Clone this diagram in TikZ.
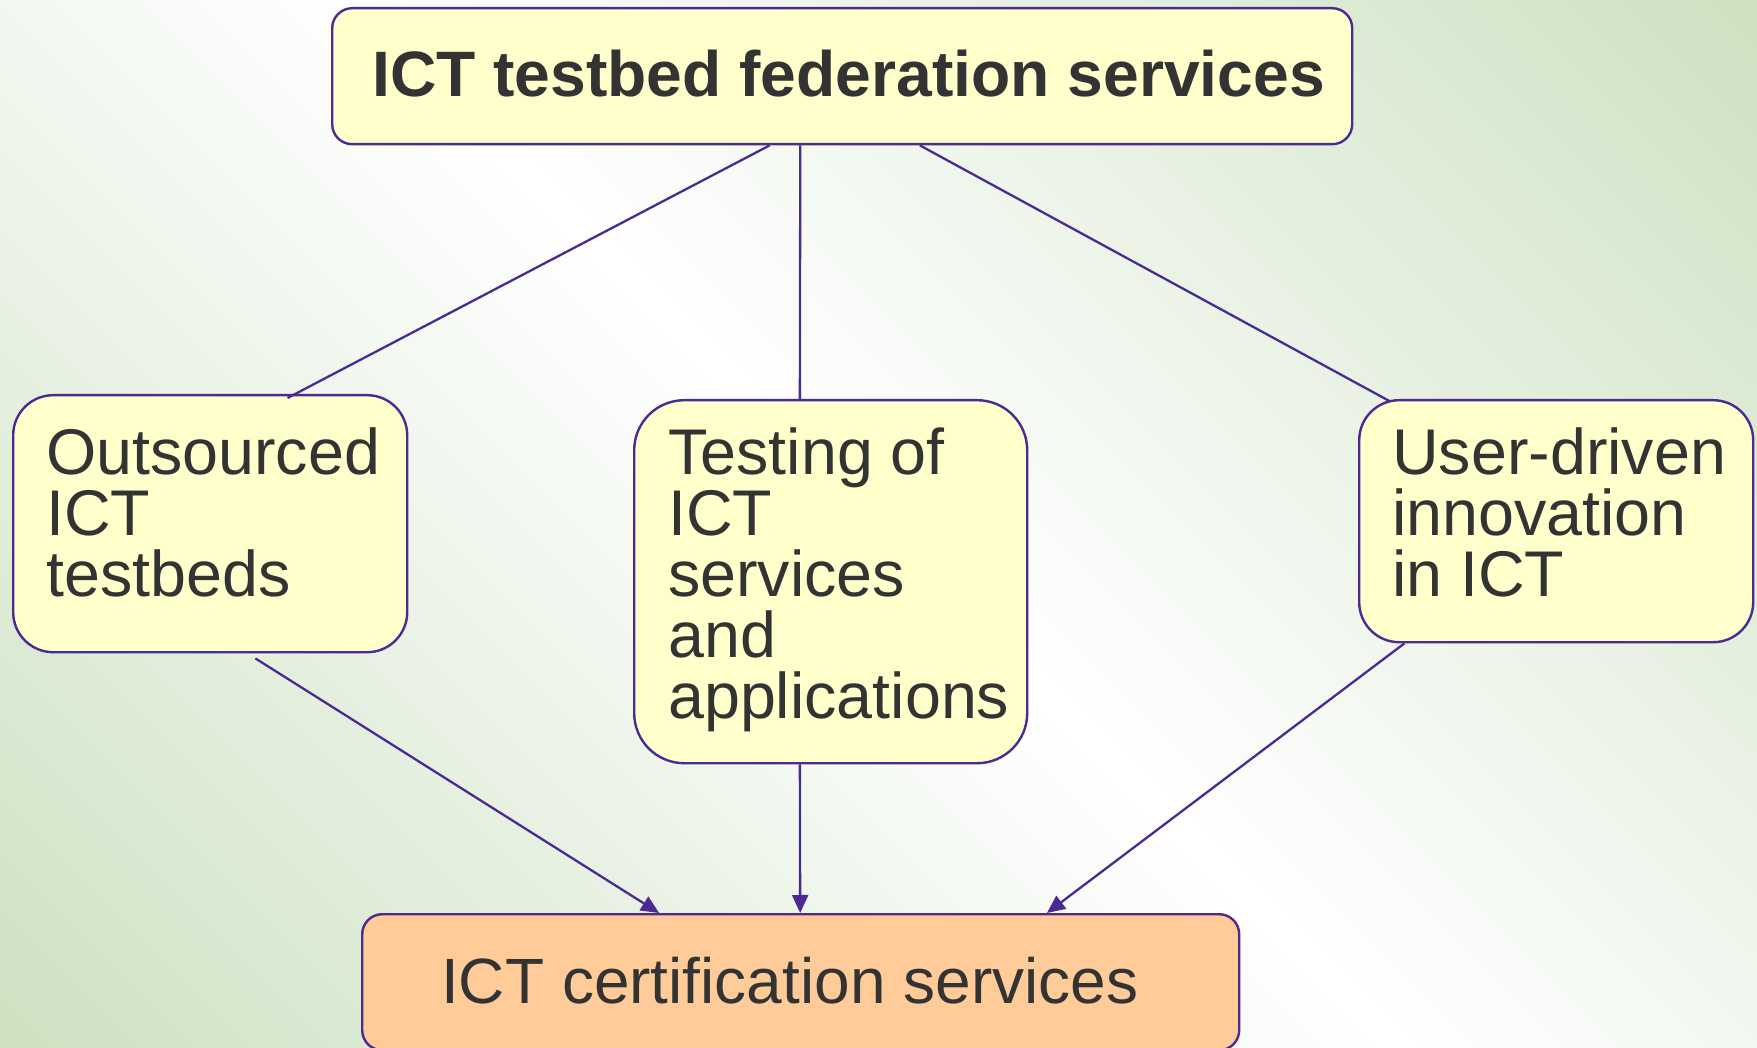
\documentclass[tikz,border=0pt]{standalone}
\usepackage{fontspec}
\setmainfont{Liberation Sans}
\usetikzlibrary{calc,arrows.meta}
\definecolor{edgec}{HTML}{4B2A91}
\definecolor{boxfill}{HTML}{FFFFCC}
\definecolor{certfill}{HTML}{FFCC99}
\definecolor{bggreen}{HTML}{CDE1C2}
\definecolor{txt}{HTML}{333333}
\tikzset{
  box/.style={draw=edgec, line width=2.4pt, fill=boxfill, inner sep=0pt, anchor=north west},
  lbl/.style={text=txt, font=\fontsize{64.6}{61}\selectfont, align=left, inner sep=0pt, anchor=base west},
  conn/.style={draw=edgec, line width=2.3pt},
  arr/.style={conn, -{Triangle[length=18pt,width=16pt]}}
}
\begin{document}
\begin{tikzpicture}[x=1pt,y=-1pt]
\useasboundingbox (0,0) rectangle (1757,1048);
% background: diagonal green-white-green gradient, drawn as thin bands
\begin{scope}
  \clip (0,0) rectangle (1757,1048);
  \begin{scope}[shift={(878.5,524)}, rotate=-45]
    \foreach \i in {0,...,99} {
      \pgfmathsetmacro\ya{-1000+\i*20}
      \pgfmathsetmacro\pc{min(100,abs(\ya+10)/990*100)}
      \fill[bggreen!\pc!white] (-1150,\ya) rectangle (1150,\ya+21);
    }
  \end{scope}
\end{scope}
% boxes
\node[box, rounded corners=20pt, minimum width=1020pt, minimum height=136pt] (top) at (331,7) {};
\node[box, rounded corners=40pt, minimum width=394pt, minimum height=257pt] (left) at (12,394) {};
\node[box, rounded corners=50pt, minimum width=393pt, minimum height=363pt] (mid) at (633,399) {};
\node[box, rounded corners=40pt, minimum width=394pt, minimum height=242pt] (right) at (1358,399) {};
\node[box, fill=certfill, rounded corners=20pt, minimum width=877pt, minimum height=136pt] (cert) at (361,913) {};
% texts (base anchor = baseline of last line)
\node[lbl, font=\fontsize{64.2}{61}\selectfont\bfseries] (toptxt) at (372,97) {ICT testbed federation services};
\node[lbl] (lefttxt) at (46,596) {Outsourced\\ICT\\testbeds};
\node[lbl] (midtxt) at (668,718) {Testing of\\ICT\\services\\and\\applications};
\node[lbl] (righttxt) at (1392,596) {User-driven\\innovation\\in ICT};
\node[lbl, font=\fontsize{64}{61}\selectfont] (certtxt) at (441,1003) {ICT certification services};
% connectors
\draw[conn] ($(top.south west)!0.429!(top.south east)$) -- ($(left.north west)!0.695!(left.north east)+(0,4)$);
\draw[conn] ($(top.south west)!0.459!(top.south east)$) -- ($(mid.north west)!0.422!(mid.north east)$);
\draw[conn] ($(top.south west)!0.576!(top.south east)$) -- ($(right.north west)!0.079!(right.north east)+(0,2)$);
\draw[arr] ($(left.south west)!0.614!(left.south east)+(0,5)$) -- ($(cert.north west)!0.339!(cert.north east)$);
\draw[arr] ($(mid.south west)!0.422!(mid.south east)$) -- ($(cert.north west)!0.4994!(cert.north east)$);
\draw[arr] ($(right.south west)!0.117!(right.south east)$) -- ($(cert.north west)!0.78!(cert.north east)$);
\end{tikzpicture}
\end{document}
